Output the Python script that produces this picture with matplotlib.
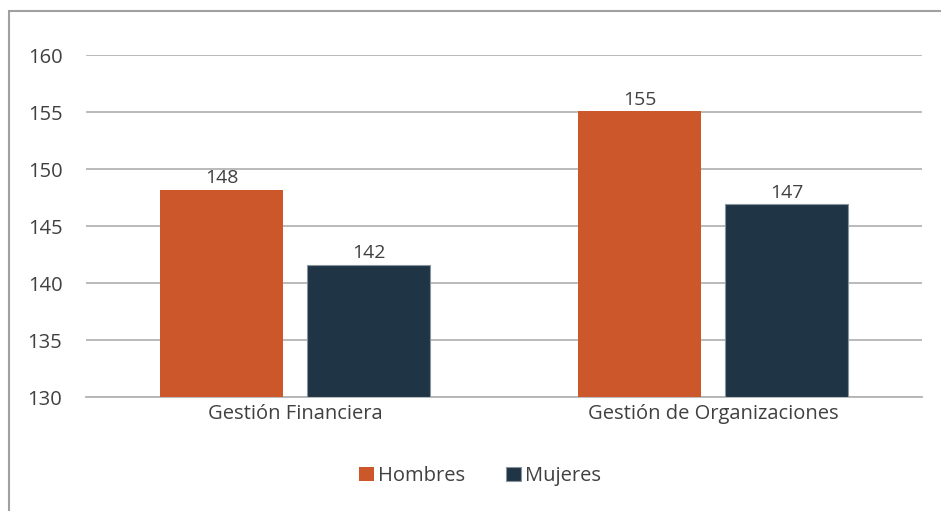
import numpy as np
import matplotlib.pyplot as plt
from matplotlib.patches import Rectangle

# Data
categories = ['Gestión Financiera', 'Gestión de Organizaciones']
hombres = [148.2, 155.1]
mujeres = [141.6, 146.9]
series_names = ['Hombres', 'Mujeres']
colors = ['#CC572A', '#1F3546']

plt.rcParams['font.family'] = ['Open Sans', 'DejaVu Sans']

W, H = 941, 511
fig = plt.figure(figsize=(W / 100, H / 100), dpi=100)

# chart frame (cropped at right/bottom)
fig.patches.append(Rectangle((9 / W, -0.1), 1.2, 1 - 11 / H + 0.1,
                             transform=fig.transFigure, fill=False,
                             edgecolor='#A0A0A0', linewidth=1.5))

ax = fig.add_axes([86 / W, 1 - 397 / H, (922 - 86) / W, (397 - 55) / H])

x = np.arange(len(categories))
bw = 0.294
off = 0.176
b1 = ax.bar(x - off, np.array(hombres) - 130, bw, bottom=130, color=colors[0],
            label=series_names[0], zorder=3)
b2 = ax.bar(x + off, np.array(mujeres) - 130, bw, bottom=130, color=colors[1],
            edgecolor='#8A949C', linewidth=0.8, label=series_names[1], zorder=3)

for bars, vals in [(b1, hombres), (b2, mujeres)]:
    for rect, v in zip(bars, vals):
        ax.text(rect.get_x() + rect.get_width() / 2, v + 0.2, f'{v:.0f}',
                ha='center', va='bottom', fontsize=14, color='#404040')

ax.set_xlim(-0.5, 1.5)
ax.set_ylim(130, 160)
ax.set_yticks(range(130, 161, 5))
ax.set_xticks(x)
ax.set_xticklabels(categories)
ax.tick_params(axis='both', length=0, labelsize=14.5, labelcolor='#404040')
ax.tick_params(axis='y', pad=17)
ax.tick_params(axis='x', pad=5)

ax.grid(axis='y', color='#B4B4B4', linewidth=1.3, zorder=0)
for s in ['top', 'right', 'left']:
    ax.spines[s].set_visible(False)
ax.spines['bottom'].set_color('#B4B4B4')
ax.spines['bottom'].set_linewidth(1.3)

fig.legend(loc='center', bbox_to_anchor=(480 / W, 1 - 476 / H), ncol=2,
           frameon=False, fontsize=14.5, handlelength=0.75, handleheight=0.75,
           handletextpad=0.2, columnspacing=2.0, labelcolor='#404040')

plt.savefig('out.png', dpi=100)
